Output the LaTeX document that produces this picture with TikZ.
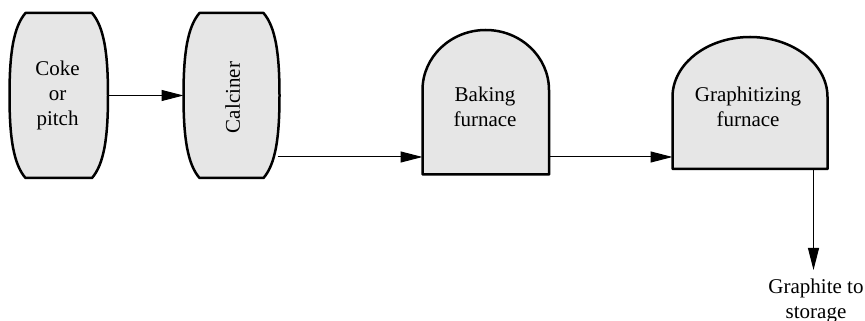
\documentclass[tikz,border=0pt]{standalone}
\usepackage{fontspec}
\setmainfont{Liberation Serif}
\usetikzlibrary{arrows.meta}
\definecolor{boxfill}{HTML}{E6E6E6}
\begin{document}
\begin{tikzpicture}[x=1pt,y=1pt,
  bound/.style={draw=none, inner sep=0pt, outer sep=0pt},
  unitbox/.style={draw=black, line width=2.5pt, fill=boxfill, line join=round},
  lbl/.style={font=\fontsize{21}{25}\selectfont, align=center, inner sep=0pt},
  flow/.style={line width=1pt, -{Triangle[length=22pt,width=11pt]}}]
\useasboundingbox (0,0) rectangle (865,321);
% bounding nodes of the units
\node[bound, minimum width=98.5pt, minimum height=165pt] (coke) at (58.75,225.5) {};
\node[bound, minimum width=96pt, minimum height=165pt] (calc) at (231.5,225.5) {};
\node[bound, minimum width=126.5pt, minimum height=144.5pt] (bake) at (485.75,218.75) {};
\node[bound, minimum width=155pt, minimum height=132pt] (graph) at (750,218) {};
% barrel outlines
\draw[unitbox] ([xshift=16pt]coke.north west)
  .. controls ([shift={(4pt,-14pt)}]coke.north west) and ([yshift=-40pt]coke.north west) .. (coke.west)
  .. controls ([yshift=40pt]coke.south west) and ([shift={(4pt,14pt)}]coke.south west) .. ([xshift=16pt]coke.south west)
  -- ([xshift=-16pt]coke.south east)
  .. controls ([shift={(-4pt,14pt)}]coke.south east) and ([yshift=40pt]coke.south east) .. (coke.east)
  .. controls ([yshift=-40pt]coke.north east) and ([shift={(-4pt,-14pt)}]coke.north east) .. ([xshift=-16pt]coke.north east)
  -- cycle;
\draw[unitbox] ([xshift=16pt]calc.north west)
  .. controls ([shift={(4pt,-14pt)}]calc.north west) and ([yshift=-40pt]calc.north west) .. (calc.west)
  .. controls ([yshift=40pt]calc.south west) and ([shift={(4pt,14pt)}]calc.south west) .. ([xshift=16pt]calc.south west)
  -- ([xshift=-16pt]calc.south east)
  .. controls ([shift={(-4pt,14pt)}]calc.south east) and ([yshift=40pt]calc.south east) .. (calc.east)
  .. controls ([yshift=-40pt]calc.north east) and ([shift={(-4pt,-14pt)}]calc.north east) .. ([xshift=-16pt]calc.north east)
  -- cycle;
% dome outlines
\draw[unitbox] (bake.south west) -- ([yshift=-60pt]bake.north west)
  arc[start angle=180, end angle=0, x radius=63.25pt, y radius=60pt] -- (bake.south east) -- cycle;
\draw[unitbox] (graph.south west) -- ([yshift=-60pt]graph.north west)
  arc[start angle=180, end angle=0, x radius=77.5pt, y radius=60pt] -- (graph.south east) -- cycle;
% labels
\node[lbl] (cokel) at (57.5,225.8) {Coke\\or\\pitch};
\node[lbl, rotate=90] (calcl) at (232.8,223.5) {Calciner};
\node[lbl] (bakel) at (485,213.7) {Baking\\furnace};
\node[lbl] (graphl) at (748,213.7) {Graphitizing\\furnace};
\node[lbl, anchor=north] (store) at (816,42.7) {Graphite to\\storage};
% connectors
\draw[flow] (coke.east) -- (calc.west);
\coordinate (c2) at ([shift={(-2pt,-61.5pt)}]calc.east);
\draw[flow] (c2) -- (bake.west |- c2);
\draw[flow] (bake.east |- c2) -- (graph.west |- c2);
\coordinate (gout) at ([xshift=63.5pt]graph.south);
\coordinate (gend) at (813.5,51);
\draw[flow] (gout) -- (gend);
\end{tikzpicture}
\end{document}
